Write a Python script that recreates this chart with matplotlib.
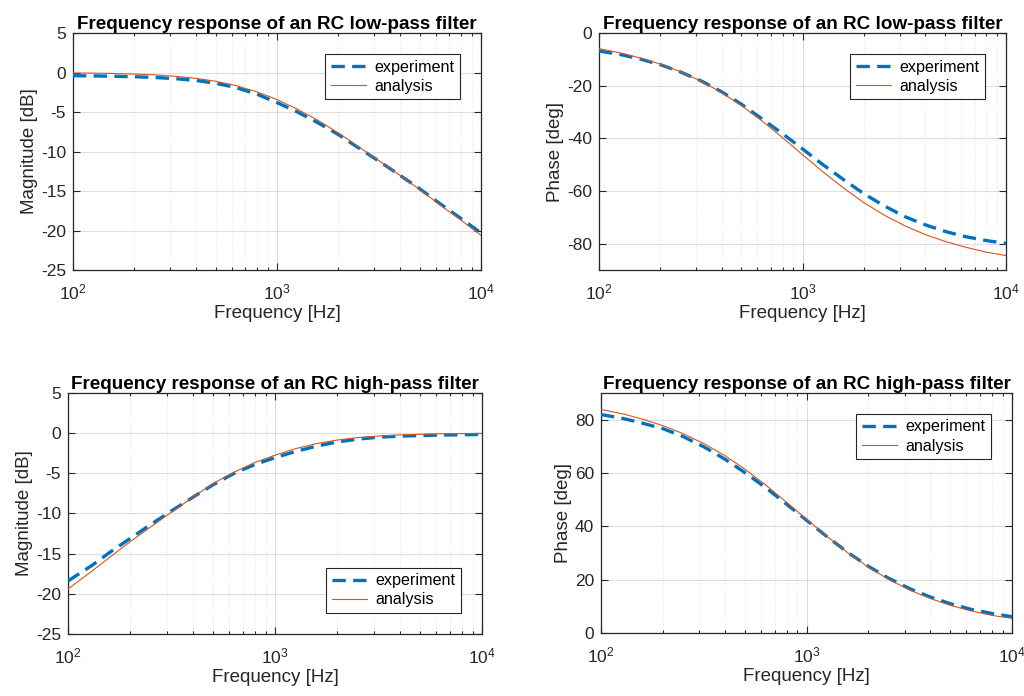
import numpy as np
import matplotlib
matplotlib.use("Agg")
import matplotlib.pyplot as plt
from matplotlib.ticker import LogLocator, MultipleLocator, NullFormatter

plt.rcParams['font.family'] = ['Liberation Sans', 'DejaVu Sans']
plt.rcParams['mathtext.fontset'] = 'custom'
plt.rcParams['mathtext.rm'] = 'Liberation Sans'
plt.rcParams['axes.unicode_minus'] = False

# frequency points [Hz] (third-octave)
freq = [100, 130, 160, 200, 250, 320, 400, 500, 630, 800, 1000,
        1250, 1600, 2000, 2500, 3200, 4000, 5000, 6300, 8000, 10000]

# low-pass, magnitude [dB]
lp_mag_exp = [-0.40, -0.43, -0.47, -0.53, -0.62, -0.78, -1.0, -1.35, -1.9, -2.75, -3.8,
              -4.95, -6.4, -7.85, -9.5, -11.3, -13.0, -14.7, -16.6, -18.5, -20.3]
lp_mag_ana = [-0.05, -0.08, -0.12, -0.19, -0.29, -0.48, -0.73, -1.1, -1.65, -2.45, -3.42,
              -4.6, -6.1, -7.65, -9.35, -11.25, -13.0, -14.8, -16.75, -18.7, -20.6]

# low-pass, phase [deg]
lp_ph_exp = [-6.8, -8.3, -9.9, -12.0, -14.7, -18.3, -22.3, -27.0, -32.5, -38.3, -44.0,
             -49.8, -55.8, -61.0, -65.5, -69.8, -72.8, -75.3, -77.3, -78.8, -79.9]
lp_ph_ana = [-5.9, -7.7, -9.5, -11.8, -14.6, -18.4, -22.6, -27.5, -33.3, -39.8, -46.2,
             -52.5, -59.0, -64.4, -69.0, -73.3, -76.5, -79.1, -81.3, -83.2, -84.5]

# high-pass, magnitude [dB]
hp_mag_exp = [-18.4, -16.5, -14.8, -13.1, -11.4, -9.6, -8.0, -6.45, -5.05, -3.9, -3.05,
              -2.3, -1.6, -1.1, -0.75, -0.5, -0.38, -0.3, -0.25, -0.2, -0.17]
hp_mag_ana = [-19.4, -17.2, -15.4, -13.5, -11.7, -9.75, -8.0, -6.3, -4.9, -3.65, -2.75,
              -1.95, -1.28, -0.86, -0.56, -0.35, -0.23, -0.15, -0.09, -0.06, -0.04]

# high-pass, phase [deg]
hp_ph_exp = [81.9, 80.3, 78.6, 76.6, 73.7, 69.6, 65.2, 60.2, 54.6, 48.3, 42.3,
             36.3, 30.0, 25.0, 20.6, 16.5, 13.5, 11.0, 8.9, 7.3, 6.1]
hp_ph_ana = [83.8, 82.0, 80.1, 77.7, 74.8, 70.8, 66.5, 61.5, 55.6, 49.0, 42.6,
             36.4, 29.9, 24.7, 20.2, 16.0, 12.95, 10.4, 8.3, 6.6, 5.5]

title_lp = 'Frequency response of an RC low-pass filter'
title_hp = 'Frequency response of an RC high-pass filter'

blue = '#0072BD'
orange = '#D95319'
axc = (0.15, 0.15, 0.15)

fig = plt.figure(figsize=(10.24, 6.96), dpi=100)

panels = [
    # position, exp, ana, title, ylabel, ylim, ystep, legend loc
    ([0.0713, 0.612, 0.3984, 0.3405], lp_mag_exp, lp_mag_ana, title_lp, 'Magnitude [dB]', (-25, 5), 5, 'upper right'),
    ([0.585, 0.612, 0.3975, 0.3405], lp_ph_exp, lp_ph_ana, title_lp, 'Phase [deg]', (-90, 0), 20, 'upper right'),
    ([0.0664, 0.0891, 0.4043, 0.3463], hp_mag_exp, hp_mag_ana, title_hp, 'Magnitude [dB]', (-25, 5), 5, 'lower right'),
    ([0.5869, 0.0905, 0.4014, 0.345], hp_ph_exp, hp_ph_ana, title_hp, 'Phase [deg]', (0, 90), 20, 'upper right'),
]

for pos, y_exp, y_ana, title, ylabel, ylim, ystep, loc in panels:
    ax = fig.add_axes(pos)
    ax.set_xscale('log')
    ax.plot(freq, y_exp, color=blue, lw=2.4, dashes=(4.0, 2.2), label='experiment', zorder=3)
    ax.plot(freq, y_ana, color=orange, lw=0.8, label='analysis', zorder=4)
    ax.set_xlim(100, 10000)
    ax.set_ylim(*ylim)
    ax.yaxis.set_major_locator(MultipleLocator(ystep))
    ax.xaxis.set_major_locator(LogLocator(base=10))
    ax.xaxis.set_minor_locator(LogLocator(base=10, subs=np.arange(2, 10)))
    ax.xaxis.set_minor_formatter(NullFormatter())
    ax.grid(True, which='major', color=axc, alpha=0.15, lw=0.8)
    ax.grid(True, which='minor', axis='x', color=axc, alpha=0.18, lw=0.6, ls=(0, (1, 2.5)))
    ax.set_axisbelow(True)
    ax.tick_params(which='both', direction='in', top=True, right=True, colors=axc,
                   labelsize=12.5, width=0.8)
    ax.tick_params(which='major', length=5)
    ax.tick_params(axis='x', which='major', pad=9)
    ax.tick_params(axis='y', which='major', pad=5)
    ax.tick_params(which='minor', length=2.5)
    for s in ax.spines.values():
        s.set_color(axc)
        s.set_linewidth(0.9)
    ax.set_xlabel('Frequency [Hz]', fontsize=13.5, color=axc, labelpad=2)
    ax.set_ylabel(ylabel, fontsize=13.5, color=axc, labelpad=2)
    ax.set_title(title, fontsize=13.6, fontweight='bold', pad=3)
    leg = ax.legend(loc=loc, fontsize=11.6, fancybox=False, framealpha=1,
                    edgecolor=axc, handlelength=2.2, handletextpad=0.5,
                    borderaxespad=1.3, borderpad=0.35, labelspacing=0.25)
    leg.get_frame().set_linewidth(0.8)

fig.savefig('out.png', dpi=100)
